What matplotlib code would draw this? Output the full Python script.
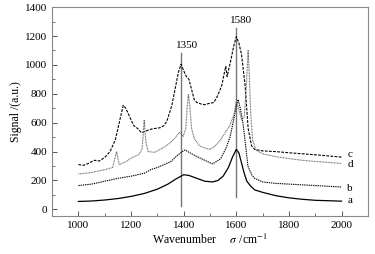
import matplotlib
matplotlib.use('Agg')
import matplotlib.pyplot as plt
from matplotlib.ticker import MultipleLocator

plt.rcParams['font.family'] = 'Liberation Serif'
plt.rcParams['mathtext.fontset'] = 'stix'

# spectra (wavenumber, signal)
a_x = [1000, 1050, 1100, 1150, 1200, 1250, 1300, 1340, 1370, 1400, 1420, 1450, 1480, 1510,
       1530, 1550, 1570, 1585, 1600, 1610, 1620, 1630, 1640, 1655, 1670, 1700, 1750, 1800,
       1850, 1900, 1950, 2000]
a_y = [55, 58, 65, 75, 90, 110, 140, 175, 210, 240, 235, 215, 195, 190,
       200, 230, 290, 360, 415, 390, 320, 250, 195, 160, 135, 118, 95, 80,
       70, 63, 60, 57]

b_x = [1000, 1050, 1100, 1150, 1200, 1250, 1275, 1300, 1350, 1380, 1395, 1405, 1420, 1450,
       1480, 1510, 1540, 1560, 1576, 1590, 1600, 1607, 1615, 1625, 1633, 1644, 1660, 1670,
       1700, 1750, 1800, 1850, 1900, 1950, 2000]
b_y = [165, 175, 195, 215, 230, 250, 275, 290, 330, 380, 400, 412, 395, 366,
       340, 315, 350, 420, 500, 620, 720, 760, 700, 600, 480, 300, 235, 215,
       190, 180, 175, 170, 165, 160, 155]

c_x = [1000, 1020, 1040, 1060, 1080, 1100, 1120, 1140, 1155, 1170, 1180, 1195, 1210, 1225,
       1240, 1260, 1275, 1290, 1310, 1325, 1336, 1355, 1367, 1380, 1390, 1400, 1410, 1420,
       1430, 1440, 1450, 1465, 1480, 1500, 1515, 1530, 1545, 1555, 1560, 1565, 1570, 1580,
       1590, 1600, 1610, 1620, 1633, 1645, 1658, 1670, 1700, 1750, 1800, 1850, 1900, 1950,
       2000]
c_y = [310, 305, 320, 340, 335, 360, 400, 480, 600, 720, 700, 640, 580, 560,
       530, 545, 555, 560, 565, 580, 610, 720, 830, 950, 1005, 960, 920, 900,
       830, 760, 740, 730, 725, 735, 740, 790, 860, 950, 990, 920, 960, 1040,
       1130, 1195, 1150, 1070, 865, 560, 440, 415, 405, 400, 392, 385, 378, 370,
       362]

d_x = [1000, 1050, 1100, 1130, 1145, 1155, 1180, 1200, 1230, 1242, 1250, 1256, 1265, 1290,
       1325, 1348, 1370, 1385, 1398, 1408, 1413, 1418, 1423, 1430, 1440, 1460, 1480, 1500,
       1520, 1540, 1557, 1575, 1590, 1600, 1610, 1620, 1630, 1638, 1645, 1650, 1655, 1662,
       1675, 1700, 1750, 1800, 1850, 1900, 1950, 2000]
d_y = [245, 255, 275, 290, 400, 310, 330, 355, 380, 420, 620, 470, 400, 395,
       430, 460, 500, 535, 505, 560, 700, 800, 720, 560, 490, 440, 425, 415,
       440, 480, 530, 580, 650, 745, 690, 620, 640, 850, 1100, 900, 650, 480,
       410, 385, 365, 352, 340, 332, 325, 318]

curve_names = ['a', 'b', 'c', 'd']
label_y = [59, 147, 382, 313]
peak_pos = [1390, 1600]
peak_text = ['1350', '1580']

fig = plt.figure(figsize=(3.75, 2.54), dpi=100)
ax = fig.add_axes([0.139, 0.150, 0.842, 0.822])

# marker lines for the two bands
ax.plot([peak_pos[0], peak_pos[0]], [24, 1085], color='#777777', lw=1.0)
ax.plot([peak_pos[1], peak_pos[1]], [87, 1258], color='#777777', lw=1.0)

ax.plot(a_x, a_y, color='black', lw=0.9)
ax.plot(b_x, b_y, color='black', lw=0.8, dashes=(1.2, 0.8))
ax.plot(c_x, c_y, color='black', lw=0.8, dashes=(2.5, 1.2))
ax.plot(d_x, d_y, color='#666666', lw=0.8, dashes=(0.8, 0.6))

for name, yv in zip(curve_names, label_y):
    ax.text(2022, yv, name, fontsize=8, va='center', ha='left')

ax.text(1411, 1133, peak_text[0], fontsize=8, ha='center', va='center')
ax.text(1617, 1308, peak_text[1], fontsize=8, ha='center', va='center')

ax.set_xlim(900, 2100)
ax.set_ylim(-45, 1400)
ax.xaxis.set_major_locator(MultipleLocator(200))
ax.xaxis.set_minor_locator(MultipleLocator(100))
ax.yaxis.set_major_locator(MultipleLocator(200))
ax.yaxis.set_minor_locator(MultipleLocator(100))
ax.tick_params(which='both', direction='in', labelsize=8, top=False, right=False, color='#555555')
ax.tick_params(which='major', length=3.5, width=0.7)
ax.tick_params(which='minor', length=2, width=0.6)
for s in ax.spines.values():
    s.set_color('#888888')
    s.set_linewidth(0.8)

ax.set_xlabel('Wavenumber     $\\sigma$ /cm$^{-1}$', fontsize=8.5, labelpad=2)
ax.set_ylabel('Signal /(a.u.)', fontsize=8.5, labelpad=2)

fig.savefig('out.png', dpi=100)
